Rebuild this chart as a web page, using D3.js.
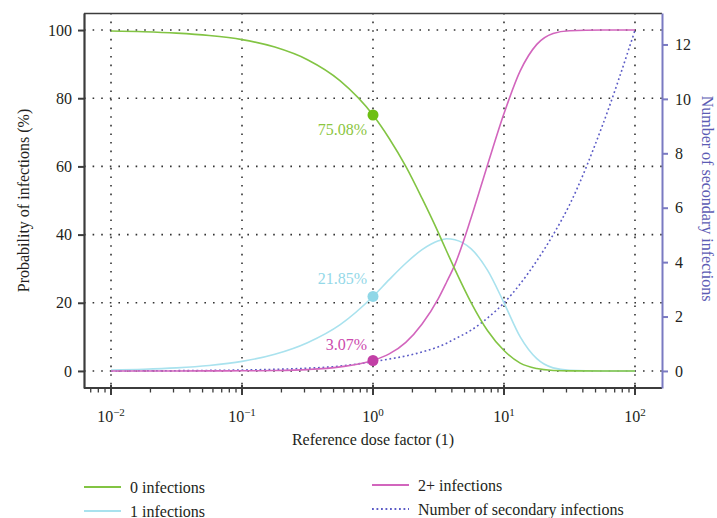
<!DOCTYPE html>
<html>
<head>
<meta charset="utf-8">
<script src="https://cdn.jsdelivr.net/npm/d3@7"></script>
<style>
  html, body { margin: 0; padding: 0; background: #fff; }
  svg { display: block; }
  text { font-family: "Liberation Serif", "DejaVu Serif", serif; fill: #231f20; }
</style>
</head>
<body>
<svg id="chart" width="717" height="518"></svg>
<script>
// Reference dose factors (log-spaced sample points)
const dose = [0.01, 0.0178, 0.0316, 0.0562, 0.1, 0.178, 0.316, 0.562, 1, 1.33, 1.78, 2.37,
              3.16, 3.65, 4.22, 5.62, 7.5, 10, 13.3, 17.8, 23.7, 31.6, 56.2, 100];
// Probability (%) of 0, 1 and 2+ infections
const zeroInfections = [99.7, 99.5, 99.1, 98.4, 97.2, 95.0, 91.3, 85.1, 75.08, 68.2, 60.0, 50.6,
                        40.5, 35.1, 29.8, 20.0, 11.8, 6.0, 2.3, 0.7, 0.15, 0.02, 0, 0];
const oneInfection = [0.3, 0.5, 0.9, 1.6, 2.8, 4.9, 8.3, 13.6, 21.85, 26.8, 31.6, 35.6,
                      38.2, 38.8, 38.5, 35.8, 29.5, 20.0, 10.0, 3.6, 0.9, 0.2, 0, 0];
const twoPlusInfections = [0, 0, 0, 0.01, 0.04, 0.12, 0.4, 1.2, 3.07, 5.0, 8.4, 13.8,
                           21.3, 26.1, 31.2, 45.0, 60.5, 75.5, 88.0, 95.8, 99.0, 99.8, 100, 100];
// Expected number of secondary infections (right axis)
const secondaryInfections = [0.003, 0.006, 0.01, 0.02, 0.035, 0.06, 0.1, 0.18, 0.34, 0.44, 0.55, 0.7,
                             0.89, 1.02, 1.18, 1.5, 1.95, 2.5, 3.2, 4.05, 5.0, 6.1, 9.0, 12.52];

// Highlighted values at the reference dose
const markerDose = 1;
const markerValues = [75.08, 21.85, 3.07];
const markerLabels = ["75.08%", "21.85%", "3.07%"];

// Tick values
const xTicks = [0.01, 0.1, 1, 10, 100];
const xTickExponents = ["\u22122", "\u22121", "0", "1", "2"];
const yLeftTicks = [0, 20, 40, 60, 80, 100];
const yRightTicks = [0, 2, 4, 6, 8, 10, 12];

const seriesNames = ["0 infections", "1 infections", "2+ infections", "Number of secondary infections"];

const colors = {
  zero: "#82c443", zeroMark: "#6dbf12", zeroText: "#8cc63f",
  one: "#a9e2ee", oneMark: "#8fd7e7", oneText: "#93d8e8",
  two: "#d265bd", twoMark: "#c23fa6", twoText: "#cc4aae",
  sec: "#5b5bc6", rightAxis: "#7a7ac2", rightText: "#5c5cb4",
  grid: "#333333", axis: "#3c3c3c"
};

const svg = d3.select("#chart");
const L = 84, R = 662, T = 13, B = 388;

const x = d3.scaleLog().domain([0.00622, 160.8]).range([L, R]);
const yL = d3.scaleLinear().domain([-5, 105]).range([B, T]);
// Right axis: 100 % on the left corresponds to 12.53 secondary infections
const rightPerPercent = 12.53 / 100;
const yR = d3.scaleLinear().domain(yL.domain().map(v => v * rightPerPercent)).range([B, T]);

// Dotted grid
const grid = svg.append("g").attr("stroke", colors.grid).attr("stroke-width", 1.6)
  .attr("stroke-dasharray", "1.6,7").attr("fill", "none");
grid.selectAll("line.h").data(yLeftTicks).join("line")
  .attr("x1", L).attr("x2", R).attr("y1", d => yL(d)).attr("y2", d => yL(d));
grid.selectAll("line.v").data(xTicks).join("line")
  .attr("x1", d => x(d)).attr("x2", d => x(d)).attr("y1", T).attr("y2", B);

// Frame: top line
svg.append("line").attr("x1", L).attr("x2", R).attr("y1", T + 0.5).attr("y2", T + 0.5)
  .attr("stroke", colors.axis).attr("stroke-width", 1.6);

// Left axis
const gLeft = svg.append("g").attr("transform", `translate(${L},0)`)
  .call(d3.axisLeft(yL).tickValues(yLeftTicks).tickSize(6).tickSizeOuter(0).tickPadding(6));
gLeft.select(".domain").attr("stroke", colors.axis).attr("stroke-width", 2.2);
gLeft.selectAll(".tick line").attr("stroke", colors.axis).attr("stroke-width", 2);
gLeft.selectAll(".tick text").attr("font-size", 16).attr("font-family", "Liberation Serif").attr("fill", "#231f20");

// Bottom axis: major ticks with superscript labels, minor ticks between
const gBottom = svg.append("g").attr("transform", `translate(0,${B})`);
gBottom.append("line").attr("x1", L).attr("x2", R).attr("y1", 0).attr("y2", 0)
  .attr("stroke", colors.axis).attr("stroke-width", 2.2);
const minorTicks = x.ticks().filter(d => !xTicks.includes(d));
gBottom.selectAll("line.minor").data(minorTicks).join("line").attr("class", "minor")
  .attr("x1", d => x(d)).attr("x2", d => x(d)).attr("y1", 0).attr("y2", 4.5)
  .attr("stroke", colors.axis).attr("stroke-width", 1.3);
gBottom.selectAll("line.major").data(xTicks).join("line").attr("class", "major")
  .attr("x1", d => x(d)).attr("x2", d => x(d)).attr("y1", -3).attr("y2", 7)
  .attr("stroke", colors.axis).attr("stroke-width", 2);
const xLab = gBottom.selectAll("text.xl").data(xTicks).join("text").attr("class", "xl")
  .attr("x", d => x(d)).attr("y", 34).attr("text-anchor", "middle").attr("font-size", 16);
xLab.append("tspan").text("10");
xLab.append("tspan").attr("font-size", 11).attr("dy", -6).text((d, i) => xTickExponents[i]);

// Right axis
const gRight = svg.append("g").attr("transform", `translate(${R},0)`)
  .call(d3.axisRight(yR).tickValues(yRightTicks).tickSize(6).tickSizeOuter(0).tickPadding(7));
gRight.select(".domain").attr("stroke", colors.rightAxis).attr("stroke-width", 2);
gRight.selectAll(".tick line").attr("stroke", colors.rightAxis).attr("stroke-width", 2);
gRight.selectAll(".tick text").attr("font-size", 16).attr("font-family", "Liberation Serif")
  .attr("fill", colors.rightText);

// Axis titles
svg.append("text").attr("x", (L + R) / 2).attr("y", 445).attr("text-anchor", "middle")
  .attr("font-size", 16).text("Reference dose factor (1)");
svg.append("text").attr("transform", `translate(23,${(T + B) / 2}) rotate(-90)`)
  .attr("text-anchor", "middle").attr("dominant-baseline", "central")
  .attr("font-size", 16).text("Probability of infections (%)");
svg.append("text").attr("transform", `translate(707,${(T + B) / 2 - 2}) rotate(90)`)
  .attr("text-anchor", "middle").attr("dominant-baseline", "central")
  .attr("font-size", 16).style("fill", colors.rightText).text("Number of secondary infections");

// Curves
const pts = vals => dose.map((d, i) => [d, vals[i]]);
const lineL = d3.line().x(d => x(d[0])).y(d => yL(d[1])).curve(d3.curveMonotoneX);
const lineR = d3.line().x(d => x(d[0])).y(d => yR(d[1])).curve(d3.curveMonotoneX);

svg.append("path").attr("d", lineR(pts(secondaryInfections))).attr("fill", "none")
  .attr("stroke", colors.sec).attr("stroke-width", 1.6).attr("stroke-dasharray", "1.8,2.7");
svg.append("path").attr("d", lineL(pts(oneInfection))).attr("fill", "none")
  .attr("stroke", colors.one).attr("stroke-width", 1.6);
svg.append("path").attr("d", lineL(pts(twoPlusInfections))).attr("fill", "none")
  .attr("stroke", colors.two).attr("stroke-width", 1.6);
svg.append("path").attr("d", lineL(pts(zeroInfections))).attr("fill", "none")
  .attr("stroke", colors.zero).attr("stroke-width", 1.6);

// Markers and value labels at the reference dose
const markColors = [colors.zeroMark, colors.oneMark, colors.twoMark];
const textColors = [colors.zeroText, colors.oneText, colors.twoText];
const labelDy = [20, -12, -10];
svg.selectAll("circle.mk").data(markerValues).join("circle").attr("class", "mk")
  .attr("cx", x(markerDose)).attr("cy", d => yL(d)).attr("r", 5.5)
  .attr("fill", (d, i) => markColors[i]);
svg.selectAll("text.mk").data(markerValues).join("text").attr("class", "mk")
  .attr("x", x(markerDose) - 6).attr("y", (d, i) => yL(d) + labelDy[i])
  .attr("text-anchor", "end").attr("font-size", 16)
  .style("fill", (d, i) => textColors[i]).text((d, i) => markerLabels[i]);

// Legend
const legend = [
  { name: seriesNames[0], color: colors.zero, dash: null, x: 84, y: 487 },
  { name: seriesNames[1], color: colors.one, dash: null, x: 84, y: 511 },
  { name: seriesNames[2], color: colors.two, dash: null, x: 372, y: 485 },
  { name: seriesNames[3], color: colors.sec, dash: "1.8,2.7", x: 372, y: 509 }
];
const lg = svg.selectAll("g.lg").data(legend).join("g").attr("class", "lg")
  .attr("transform", d => `translate(${d.x},${d.y})`);
lg.append("line").attr("x1", 0).attr("x2", 37).attr("y1", 0).attr("y2", 0)
  .attr("stroke", d => d.color).attr("stroke-width", 1.8)
  .attr("stroke-dasharray", d => d.dash);
lg.append("text").attr("x", 46).attr("y", 0).attr("dominant-baseline", "central")
  .attr("font-size", 16).text(d => d.name);
</script>
</body>
</html>
